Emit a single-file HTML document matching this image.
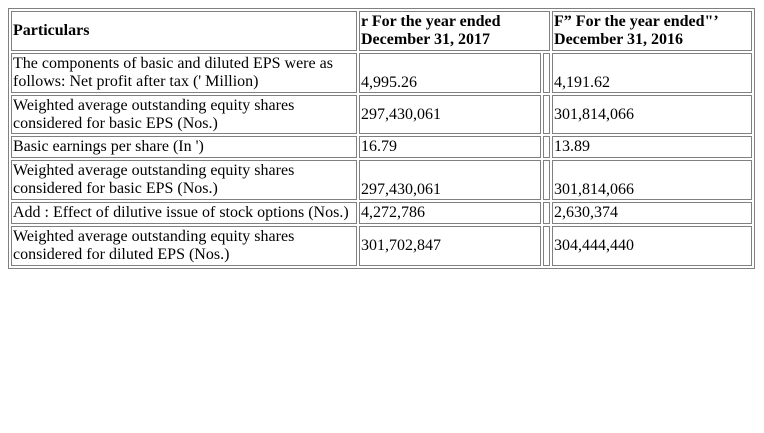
<!DOCTYPE html>
<html><head><meta charset="utf-8">
<style>
html,body{margin:0;padding:0;background:#fff;width:764px;height:433px;overflow:hidden}
body{padding:8px;box-sizing:border-box}
table{border:1px solid #808080;border-spacing:2px;table-layout:fixed;width:747px;font-family:"Liberation Serif",serif;font-size:16px;color:#000;line-height:18px}
td{border:1px solid #808080;padding:0 1px;overflow:hidden;white-space:normal}
th{border:1px solid #808080;padding:0 1px;text-align:left;font-weight:bold}
.b{vertical-align:bottom}
</style></head><body>
<table>
<colgroup><col style="width:346px"><col style="width:182px"><col style="width:7px"><col style="width:200px"></colgroup>
<tr style="height:40px">
<th>Particulars</th>
<th colspan="2">r For the year ended December 31, 2017</th>
<th>F” For the year ended"’ December 31, 2016</th>
</tr>
<tr style="height:40px">
<td>The components of basic and diluted EPS were as follows: Net profit after tax (' Million)</td>
<td class="b">4,995.26</td><td></td>
<td class="b">4,191.62</td>
</tr>
<tr style="height:39px">
<td>Weighted average outstanding equity shares considered for basic EPS (Nos.)</td>
<td>297,430,061</td><td></td>
<td>301,814,066</td>
</tr>
<tr style="height:22px">
<td>Basic earnings per share (In ')</td>
<td>16.79</td><td></td>
<td>13.89</td>
</tr>
<tr style="height:40px">
<td>Weighted average outstanding equity shares considered for basic EPS (Nos.)</td>
<td class="b">297,430,061</td><td></td>
<td class="b">301,814,066</td>
</tr>
<tr style="height:22px">
<td style="white-space:nowrap">Add : Effect of dilutive issue of stock options (Nos.)</td>
<td>4,272,786</td><td></td>
<td>2,630,374</td>
</tr>
<tr style="height:40px">
<td>Weighted average outstanding equity shares considered for diluted EPS (Nos.)</td>
<td>301,702,847</td><td></td>
<td>304,444,440</td>
</tr>
</table>
</body></html>
